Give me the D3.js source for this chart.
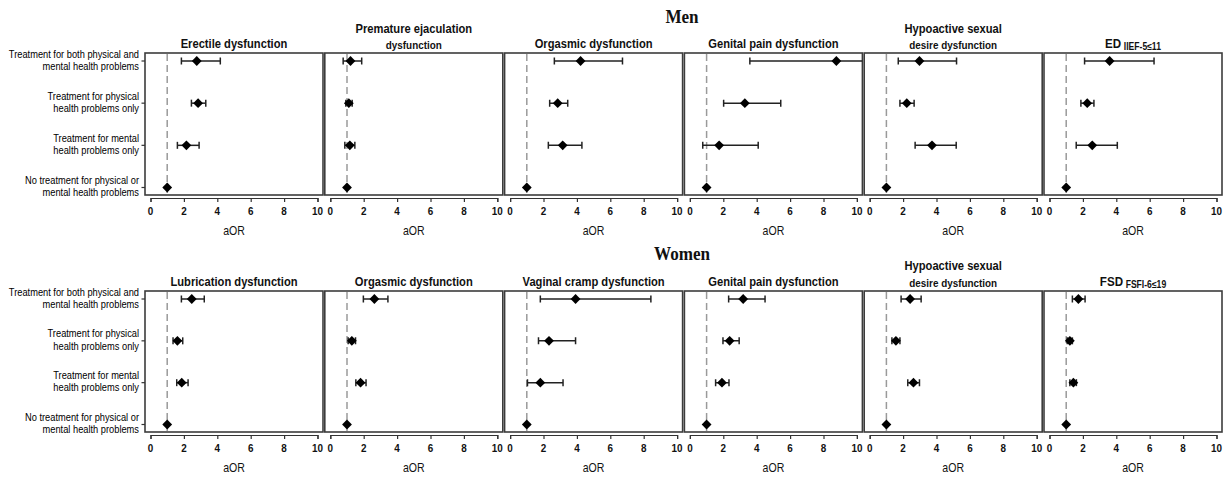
<!DOCTYPE html>
<html><head><meta charset="utf-8">
<script src="https://cdn.jsdelivr.net/npm/d3@7"></script>
<style>body{margin:0;background:#fff} svg{display:block}</style>
</head><body>
<svg id="chart" width="1227" height="477"></svg>
<script>
// ---------- DATA ----------
const categories = [
  "Treatment for both physical and mental health problems",
  "Treatment for physical health problems only",
  "Treatment for mental health problems only",
  "No treatment for physical or mental health problems"
];
const categoryLines = [
  ["Treatment for both physical and", "mental health problems"],
  ["Treatment for physical", "health problems only"],
  ["Treatment for mental", "health problems only"],
  ["No treatment for physical or", "mental health problems"]
];
const xTicks = [0, 2, 4, 6, 8, 10];
const xDomain = [0, 10];
const referenceValue = 1;
const xAxisLabel = "aOR";
const groups = ["Men", "Women"];

const menTitles = [["Erectile dysfunction"], ["Premature ejaculation", "dysfunction"], ["Orgasmic dysfunction"],
  ["Genital pain dysfunction"], ["Hypoactive sexual", "desire dysfunction"], ["ED"]];
const menSubscripts = [null, null, null, null, null, "IIEF-5≤11"];
const menAOR = [
  [2.77, 2.85, 2.15, 1],
  [1.21, 1.11, 1.17, 1],
  [4.22, 2.85, 3.15, 1],
  [8.77, 3.29, 1.75, 1],
  [2.98, 2.22, 3.73, 1],
  [3.60, 2.26, 2.56, 1]
];
const menLower = [
  [1.85, 2.45, 1.61, null],
  [0.77, 0.93, 0.87, null],
  [2.65, 2.37, 2.29, null],
  [3.59, 2.02, 0.77, null],
  [1.71, 1.81, 2.72, null],
  [2.10, 1.88, 1.60, null]
];
const menUpper = [
  [4.18, 3.31, 2.91, null],
  [1.88, 1.31, 1.47, null],
  [6.73, 3.45, 4.30, null],
  [10.4, 5.44, 4.09, null],
  [5.20, 2.66, 5.18, null],
  [6.26, 2.66, 4.06, null]
];

const womenTitles = [["Lubrication dysfunction"], ["Orgasmic dysfunction"], ["Vaginal cramp dysfunction"],
  ["Genital pain dysfunction"], ["Hypoactive sexual", "desire dysfunction"], ["FSD"]];
const womenSubscripts = [null, null, null, null, null, "FSFI-6≤19"];
const womenAOR = [
  [2.47, 1.61, 1.87, 1],
  [2.64, 1.29, 1.81, 1],
  [3.92, 2.33, 1.81, 1],
  [3.19, 2.38, 1.92, 1],
  [2.42, 1.57, 2.62, 1],
  [1.73, 1.22, 1.43, 1]
];
const womenLower = [
  [1.85, 1.35, 1.57, null],
  [1.98, 1.07, 1.53, null],
  [1.81, 1.70, 1.04, null],
  [2.32, 1.98, 1.54, null],
  [1.88, 1.33, 2.28, null],
  [1.37, 1.06, 1.22, null]
];
const womenUpper = [
  [3.22, 1.93, 2.25, null],
  [3.45, 1.51, 2.14, null],
  [8.43, 3.92, 3.17, null],
  [4.50, 2.95, 2.34, null],
  [3.08, 1.81, 2.98, null],
  [2.13, 1.37, 1.61, null]
];

// ---------- LAYOUT ----------
const svg = d3.select("#chart");
const SANS = "'Liberation Sans', Arial, sans-serif";
const SERIF = "'Liberation Serif', 'Times New Roman', serif";
const SQ = 0.86;
const frameW = 178;
const colLeft = i => 145 + i * 179.8;
const rows = [
  {top: 53, bottom: 195, groupY: 23, group: groups[0], titles: menTitles, subs: menSubscripts, aor: menAOR, lo: menLower, hi: menUpper, titleSingle: 47.5, titleL1: 33, titleL2: 48.5},
  {top: 291, bottom: 432, groupY: 260, group: groups[1], titles: womenTitles, subs: womenSubscripts, aor: womenAOR, lo: womenLower, hi: womenUpper, titleSingle: 286, titleL1: 269.5, titleL2: 287}
];

function txt(parent, x, y, str, o) {
  return parent.append("text")
    .attr("transform", `translate(${x},${y}) scale(${o.sx || 1},1)`)
    .attr("text-anchor", o.anchor || "middle")
    .attr("font-family", o.family || SANS)
    .attr("font-size", o.size)
    .attr("font-weight", o.weight || "normal")
    .attr("fill", o.fill || "#111")
    .text(str);
}

const defs = svg.append("defs");
const diamondSym = d3.symbol().type(d3.symbolSquare).size(48);

rows.forEach((row, r) => {
  txt(svg, 682, row.groupY, row.group, {size: 19, weight: "bold", family: SERIF, sx: 0.9});

  for (let c = 0; c < 6; c++) {
    const left = colLeft(c);
    const g = svg.append("g");
    const x = d3.scaleLinear().domain(xDomain).range([left + 5.5, left + 172.5]);
    const y = d3.scalePoint().domain(categories).range([row.top + 8, row.bottom - 7.5]);

    const cid = `clip-${r}-${c}`;
    defs.append("clipPath").attr("id", cid).append("rect")
      .attr("x", left).attr("y", row.top).attr("width", frameW).attr("height", row.bottom - row.top);

    g.append("rect").attr("x", left).attr("y", row.top).attr("width", frameW).attr("height", row.bottom - row.top)
      .attr("fill", "none").attr("stroke", "#3c3c3c").attr("stroke-width", 1.6);

    g.append("line").attr("x1", x(referenceValue)).attr("x2", x(referenceValue))
      .attr("y1", row.top + 1).attr("y2", row.bottom - 1)
      .attr("stroke", "#9a9a9a").attr("stroke-width", 1.5).attr("stroke-dasharray", "7,4");

    const ax = g.append("g").attr("transform", `translate(0,${row.bottom + 3})`)
      .call(d3.axisBottom(x).tickValues(xTicks).tickSize(4).tickFormat(""));
    ax.select(".domain").attr("stroke", "#333").attr("stroke-width", 1.2);
    ax.selectAll(".tick line").attr("stroke", "#333").attr("stroke-width", 1.2);
    xTicks.forEach(v => txt(g, x(v), row.bottom + 20, d3.format("d")(v), {size: 11.5, weight: "bold", sx: SQ}));
    txt(g, left + frameW / 2, row.bottom + 39.5, xAxisLabel, {size: 12, sx: 0.88});

    if (c === 0) {
      categories.forEach((cat, i) => {
        const yy = y(cat);
        g.append("line").attr("x1", left - 3.5).attr("x2", left).attr("y1", yy).attr("y2", yy)
          .attr("stroke", "#333").attr("stroke-width", 1.2);
        txt(g, left - 6, yy - 3.5, categoryLines[i][0], {size: 10.8, anchor: "end", sx: 0.86, fill: "#000"});
        txt(g, left - 6, yy + 8.7, categoryLines[i][1], {size: 10.8, anchor: "end", sx: 0.86, fill: "#000"});
      });
    }

    const tl = row.titles[c];
    const cx = left + frameW / 2;
    if (row.subs[c]) {
      const t = txt(g, cx, row.titleSingle, "", {size: 13.5, weight: "bold", sx: SQ});
      t.append("tspan").text(tl[0]);
      t.append("tspan").attr("font-size", 10).attr("dx", 3).attr("dy", 2).text(row.subs[c]);
    } else if (tl.length === 1) {
      txt(g, cx, row.titleSingle, tl[0], {size: 13, weight: "bold", sx: SQ});
    } else {
      txt(g, cx, row.titleL1, tl[0], {size: 13, weight: "bold", sx: SQ});
      txt(g, cx, row.titleL2, tl[1], {size: 11.5, weight: "bold", sx: SQ});
    }

    const pts = categories.map((cat, i) => ({cat, v: row.aor[c][i], lo: row.lo[c][i], hi: row.hi[c][i]}));
    const m = g.append("g").attr("clip-path", `url(#${cid})`);
    const ci = pts.filter(d => d.lo != null);
    m.selectAll("line.ci").data(ci).join("line").attr("class", "ci")
      .attr("x1", d => x(d.lo)).attr("x2", d => x(d.hi)).attr("y1", d => y(d.cat)).attr("y2", d => y(d.cat))
      .attr("stroke", "#222").attr("stroke-width", 1.5);
    ["lo", "hi"].forEach(k => {
      m.selectAll(`line.cap-${k}`).data(ci).join("line").attr("class", `cap-${k}`)
        .attr("x1", d => x(d[k])).attr("x2", d => x(d[k]))
        .attr("y1", d => y(d.cat) - 3.5).attr("y2", d => y(d.cat) + 3.5)
        .attr("stroke", "#222").attr("stroke-width", 1.5);
    });
    m.selectAll("path.pt").data(pts).join("path").attr("class", "pt")
      .attr("d", diamondSym)
      .attr("transform", d => `translate(${x(d.v)},${y(d.cat)}) rotate(45)`)
      .attr("fill", "#000");
  }
});
</script>
</body></html>
